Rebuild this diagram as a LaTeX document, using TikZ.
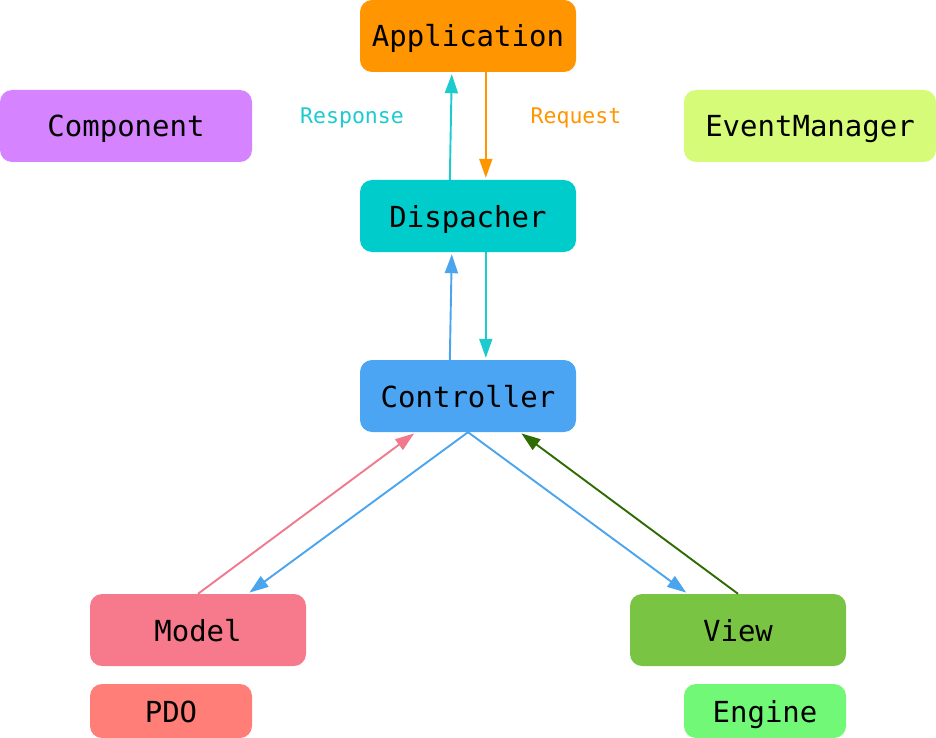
\documentclass[tikz,border=0pt]{standalone}
\usepackage{fontspec}
\setmonofont{DejaVu Sans Mono}
\usetikzlibrary{arrows.meta}
\definecolor{cApp}{HTML}{FF9500}
\definecolor{cComp}{HTML}{D683FF}
\definecolor{cEvt}{HTML}{D5FB78}
\definecolor{cDisp}{HTML}{00CCCC}
\definecolor{cCtrl}{HTML}{4BA5F2}
\definecolor{cModel}{HTML}{F77A8C}
\definecolor{cView}{HTML}{79C443}
\definecolor{cPdo}{HTML}{FF7E78}
\definecolor{cEng}{HTML}{72F877}
\definecolor{aCyan}{HTML}{1DCBCF}
\definecolor{aBlue}{HTML}{4BA5EE}
\definecolor{aPink}{HTML}{F07A8C}
\definecolor{aGreen}{HTML}{2E6B00}
\tikzset{
  box/.style={rectangle, rounded corners=12pt, inner sep=0pt, minimum width=216pt, minimum height=72pt,
    font=\ttfamily\fontsize{29}{34}\selectfont, text=black, text height=22pt, text depth=0pt},
  smallbox/.style={box, minimum width=162pt, minimum height=54pt},
  lbl/.style={font=\ttfamily\fontsize{21.5}{25}\selectfont, inner sep=0pt, text height=15pt, text depth=0pt},
  conn/.style={line width=1.9pt, -{Triangle[width=13pt,length=19pt]}, shorten >=2pt},
}
\begin{document}
\begin{tikzpicture}[x=1pt,y=-1pt]
\useasboundingbox (0,0) rectangle (936,738);
\node[box, fill=cApp] (app) at (468,36) {Application};
\node[box, fill=cComp, minimum width=252pt] (comp) at (126,126) {Component};
\node[box, fill=cEvt, minimum width=252pt] (evt) at (810,126) {EventManager};
\node[box, fill=cDisp] (disp) at (468,216) {Dispacher};
\node[box, fill=cCtrl] (ctrl) at (468,396) {Controller};
\node[box, fill=cModel] (model) at (198,630) {Model};
\node[box, fill=cView] (view) at (738,630) {View};
\node[smallbox, fill=cPdo] (pdo) at (171,711) {PDO};
\node[smallbox, fill=cEng] (eng) at (765,711) {Engine};
\node[lbl, text=aCyan] (resp) at (352,116) {Response};
\node[lbl, text=cApp] (req) at (576,116) {Request};

\draw[conn, aCyan] ([xshift=90pt]disp.north west) -- ([xshift=92pt]app.south west);
\draw[conn, cApp] ([xshift=126pt]app.south west) -- ([xshift=126pt]disp.north west);
\draw[conn, aBlue] ([xshift=90pt]ctrl.north west) -- ([xshift=92pt]disp.south west);
\draw[conn, aCyan] ([xshift=126pt]disp.south west) -- ([xshift=126pt]ctrl.north west);
\draw[conn, aPink] (model.north) -- ([xshift=56pt]ctrl.south west);
\draw[conn, aBlue] (ctrl.south) -- ([xshift=158pt]model.north west);
\draw[conn, aBlue] (ctrl.south) -- ([xshift=58pt]view.north west);
\draw[conn, aGreen] (view.north) -- ([xshift=160pt]ctrl.south west);
\end{tikzpicture}
\end{document}
